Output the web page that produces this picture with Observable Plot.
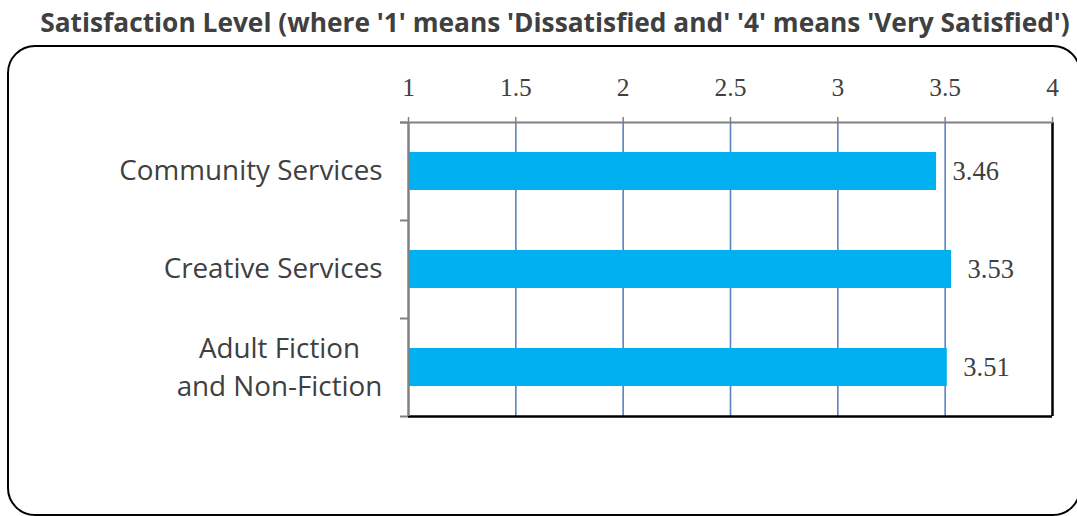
<!DOCTYPE html>
<html><head><meta charset="utf-8">
<script src="https://cdn.jsdelivr.net/npm/d3@7"></script>
<script src="https://cdn.jsdelivr.net/npm/@observablehq/plot@0.6"></script>
<style>
html,body{margin:0;padding:0;background:#fff;overflow:hidden;width:1077px;height:516px;}
#wrap{position:relative;width:1077px;height:516px;overflow:hidden;}
#title{position:absolute;left:34px;top:0;width:1042px;height:44px;text-align:center;font-family:"Open Sans";font-weight:bold;font-size:26.3px;line-height:44px;color:#404040;white-space:nowrap;}
#box{position:absolute;left:7px;top:45px;width:1074px;height:471px;border:2px solid #000;border-radius:28px;box-sizing:border-box;}
#chart{position:absolute;left:0;top:46px;}
</style></head>
<body>
<div id="wrap">
<div id="title">Satisfaction Level (where '1' means 'Dissatisfied and' '4' means 'Very Satisfied')</div>
<div id="box"></div>
<div id="chart"></div>
</div>
<script>
const categories = ["Community Services", "Creative Services", "Adult Fiction and Non-Fiction"];
const categoryLabels = ["Community Services", "Creative Services", "Adult Fiction\nand Non-Fiction"];
const values = [3.46, 3.53, 3.51];
const xTicks = [1, 1.5, 2, 2.5, 3, 3.5, 4];
const gridTicks = [1.5, 2, 2.5, 3, 3.5];

const data = categories.map((c, i) => ({category: c, value: values[i]}));
const labelOf = c => categoryLabels[categories.indexOf(c)];

const W = 1077, H = 470, mT = 76, mB = 100, mL = 408, mR = 25;
const step = (H - mT - mB) / categories.length;
const gray = "#808080";
const textColor = "#404040";

const chart = Plot.plot({
  width: W, height: H,
  marginTop: mT, marginBottom: mB, marginLeft: mL, marginRight: mR,
  x: {domain: [1, 4]},
  y: {domain: categories, padding: 0},
  style: {background: "transparent", color: textColor},
  marks: [
    Plot.gridX(gridTicks, {stroke: "#5b84c0", strokeOpacity: 1, strokeWidth: 1.6}),
    Plot.barX(data, {y: "category", x1: 1, x2: "value", fill: "#00b0f0", insetTop: 30, insetBottom: 30}),
    // right and bottom border (black)
    Plot.ruleX([4], {stroke: "#000", strokeWidth: 2.5}),
    Plot.ruleY([categories[categories.length - 1]], {x1: 1, x2: 4, dy: step / 2, stroke: "#000", strokeWidth: 2.5}),
    // left axis line and top axis line (gray)
    Plot.ruleX([1], {stroke: gray, strokeWidth: 2.5}),
    Plot.ruleY([categories[0]], {x1: 1, x2: 4, dy: -step / 2, insetLeft: -8, stroke: gray, strokeWidth: 2}),
    // y ticks at band boundaries
    Plot.ruleY(categories, {x1: 1, x2: 1, insetLeft: -8, dy: -step / 2, stroke: gray, strokeWidth: 2}),
    Plot.ruleY([categories[categories.length - 1]], {x1: 1, x2: 1, insetLeft: -8, dy: step / 2, stroke: gray, strokeWidth: 2}),
    Plot.axisX({anchor: "top", ticks: xTicks, tickSize: 6, tickPadding: 21, stroke: gray, strokeWidth: 1.5, color: textColor,
      fontFamily: "Liberation Serif", fontSize: 25.5, label: null, tickFormat: d => String(d)}),
    Plot.axisY({anchor: "left", ticks: categories.slice(0, 2), tickSize: 0, tickPadding: 26, color: textColor,
      fontFamily: "Open Sans", fontSize: 27.8, label: null, tickFormat: labelOf}),
    Plot.axisY({anchor: "left", ticks: categories.slice(2), tickSize: 0, tickPadding: 129, textAnchor: "middle", lineHeight: 1.4, dy: -3, color: textColor,
      fontFamily: "Open Sans", fontSize: 27.8, label: null, tickFormat: labelOf}),
    Plot.text(data, {x: "value", y: "category", text: d => d.value.toFixed(2), textAnchor: "start", dx: 16,
      fill: textColor, fontFamily: "Liberation Serif", fontSize: 26.5})
  ]
});
document.getElementById("chart").appendChild(chart);
</script>
</body></html>
